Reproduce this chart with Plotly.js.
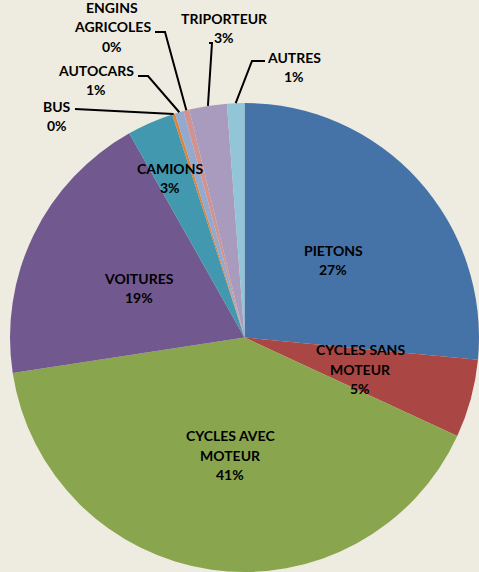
<!DOCTYPE html>
<html>
<head>
<meta charset="utf-8">
<script src="https://cdn.plot.ly/plotly-3.0.1.min.js"></script>
<style>
  html, body { margin: 0; padding: 0; background: #EEECE1; }
  #graph { width: 479px; height: 572px; }
</style>
</head>
<body>
<div id="graph"></div>
<script>
// Données du graphique
const categories = ["PIETONS", "CYCLES SANS MOTEUR", "CYCLES AVEC MOTEUR", "VOITURES", "CAMIONS",
                    "BUS", "AUTOCARS", "ENGINS AGRICOLES", "TRIPORTEUR", "AUTRES"];
const valeurs = [26.6, 5.4, 40.8, 19.3, 3.2, 0.2, 0.6, 0.4, 2.6, 1.2];
const couleurs = ["#4572A7", "#AA4643", "#89A54E", "#71588F", "#4198AF",
                  "#DB843D", "#93A9CF", "#D19392", "#A99BBD", "#92C5D8"];
// Libellés (découpés en lignes comme sur l'original)
const libelles = [["PIETONS"], ["CYCLES SANS", "MOTEUR"], ["CYCLES AVEC", "MOTEUR"], ["VOITURES"], ["CAMIONS"],
                  ["BUS"], ["AUTOCARS"], ["ENGINS", "AGRICOLES"], ["TRIPORTEUR"], ["AUTRES"]];

const W = 479, H = 572;
const marge = { l: 10, r: 0, t: 103, b: 0 };
const pw = W - marge.l - marge.r, ph = H - marge.t - marge.b;
const cx = marge.l + pw / 2, cy = marge.t + ph / 2, rayon = Math.min(pw, ph) / 2;
const interligne = 19.5;

// pixels -> coordonnées papier
function px(x) { return (x - marge.l) / pw; }
function py(y) { return 1 - (y - marge.t) / ph; }

const total = valeurs.reduce((a, b) => a + b, 0);

// Angle médian de chaque part (sens horaire depuis midi)
let cumul = 0;
const angles = valeurs.map(v => {
    const a = (cumul + v / 2) / total * 2 * Math.PI;
    cumul += v;
    return a;
});
function bord(i) {
    return [cx + rayon * Math.sin(angles[i]), cy - rayon * Math.cos(angles[i])];
}

// Position des étiquettes (centre, en pixels) et coudes des lignes de rappel
const posEtiquettes = [[333, 260], [360, 369], [230, 455], [139, 288], [170, 178],
                       [57, 116], [96, 80], [112, 27], [224, 28], [294, 67]];
const coudes = {
    5: [[75, 109]],
    6: [[138, 76], [148, 76]],
    7: [[155, 32], [165, 32]],
    8: [[209, 43], [212, 43]],
    9: [[265, 61], [252, 61]]
};

const annotations = [];
categories.forEach((c, i) => {
    const lignes = libelles[i].concat([Math.round(valeurs[i] / total * 100) + "%"]);
    lignes.forEach((t, j) => {
        annotations.push({
            xref: "paper", yref: "paper",
            x: px(posEtiquettes[i][0]),
            y: py(posEtiquettes[i][1] + (j - (lignes.length - 1) / 2) * interligne),
            xanchor: "center", yanchor: "middle",
            showarrow: false,
            text: t,
            font: { family: "Lato", size: 14, color: "#000", weight: "bold" }
        });
    });
});

const shapes = Object.keys(coudes).map(k => {
    const pts = coudes[k].concat([bord(+k)]);
    const path = pts.map((p, j) => (j === 0 ? "M" : "L") + px(p[0]) + "," + py(p[1])).join(" ");
    return {
        type: "path", xref: "paper", yref: "paper", path: path,
        line: { color: "#000", width: 2 }
    };
});

const data = [{
    type: "pie",
    labels: categories,
    values: valeurs,
    sort: false,
    direction: "clockwise",
    rotation: 0,
    textinfo: "none",
    hoverinfo: "label+percent",
    marker: { colors: couleurs, line: { width: 0 } }
}];

const layout = {
    width: W, height: H,
    margin: marge,
    showlegend: false,
    paper_bgcolor: "#EEECE1",
    plot_bgcolor: "#EEECE1",
    annotations: annotations,
    shapes: shapes
};

Plotly.newPlot("graph", data, layout, { displayModeBar: false, staticPlot: true });
</script>
</body>
</html>
